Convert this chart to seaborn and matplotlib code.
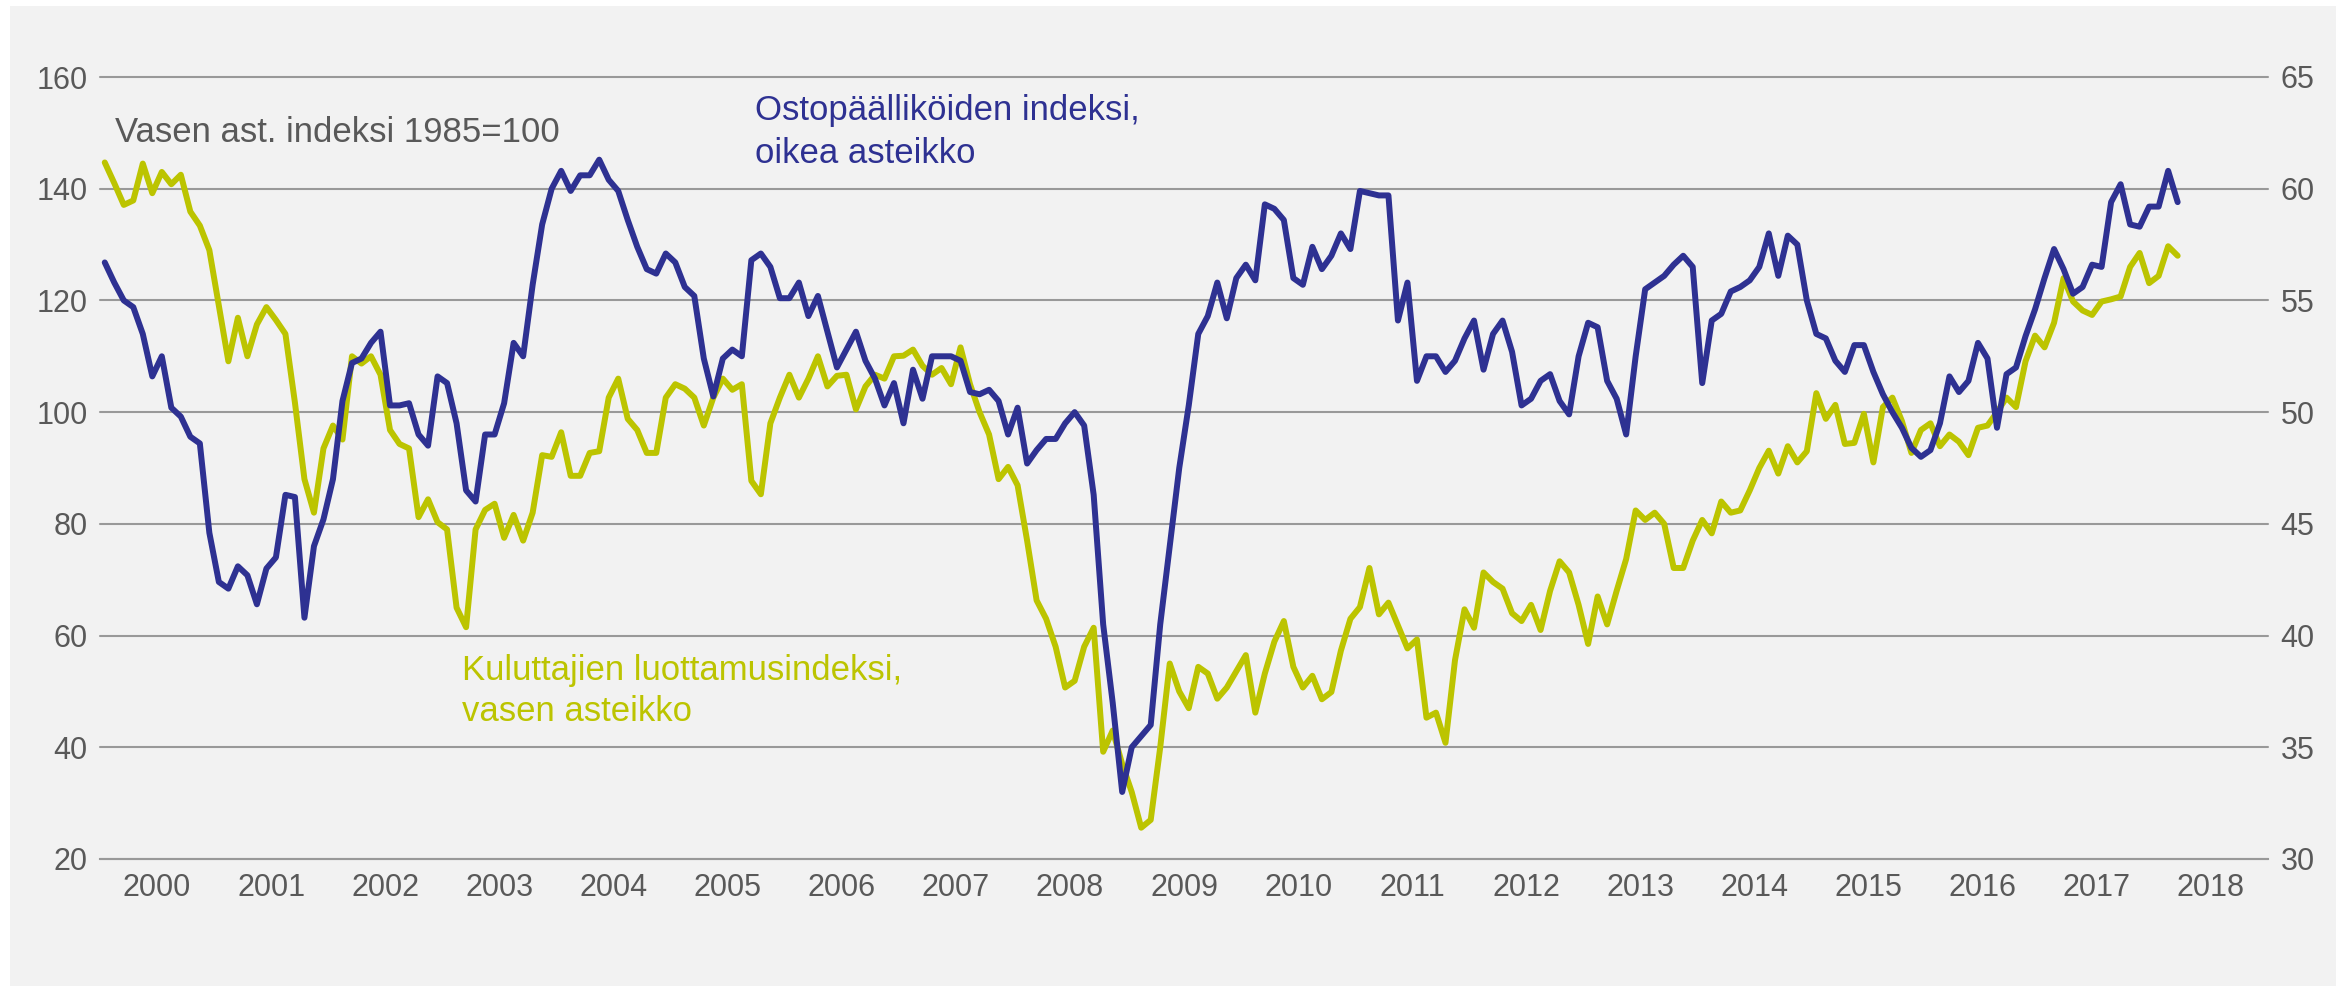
import numpy as np
import pandas as pd
import matplotlib.pyplot as plt
import seaborn as sns
from matplotlib.patches import Rectangle

# ---------------------------------------------------------
# Data (monthly, Jan 2000 - Mar 2018)
# ---------------------------------------------------------

years = list(range(2000, 2019))

# Ostopäälliköiden indeksi (right axis)
pmi = [
    56.7, 55.8, 55.0, 54.7, 53.5, 51.6, 52.5, 50.2, 49.8, 48.9, 48.6, 44.6,
    42.4, 42.1, 43.1, 42.7, 41.4, 43.0, 43.5, 46.3, 46.2, 40.8, 44.0, 45.2,
    47.0, 50.5, 52.2, 52.4, 53.1, 53.6, 50.3, 50.3, 50.4, 49.0, 48.5, 51.6,
    51.3, 49.5, 46.5, 46.0, 49.0, 49.0, 50.4, 53.1, 52.5, 55.7, 58.4, 60.0,
    60.8, 59.9, 60.6, 60.6, 61.3, 60.4, 59.9, 58.6, 57.4, 56.4, 56.2, 57.1,
    56.7, 55.6, 55.2, 52.4, 50.7, 52.4, 52.8, 52.5, 56.8, 57.1, 56.5, 55.1,
    55.1, 55.8, 54.3, 55.2, 53.6, 52.0, 52.8, 53.6, 52.3, 51.5, 50.3, 51.3,
    49.5, 51.9, 50.6, 52.5, 52.5, 52.5, 52.3, 50.9, 50.8, 51.0, 50.5, 49.0,
    50.2, 47.7, 48.3, 48.8, 48.8, 49.5, 50.0, 49.4, 46.3, 40.5, 37.0, 33.0,
    35.0, 35.5, 36.0, 40.5, 44.0, 47.5, 50.3, 53.5, 54.3, 55.8, 54.2, 56.0,
    56.6, 55.9, 59.3, 59.1, 58.6, 56.0, 55.7, 57.4, 56.4, 57.0, 58.0, 57.3,
    59.9, 59.8, 59.7, 59.7, 54.1, 55.8, 51.4, 52.5, 52.5, 51.8, 52.3, 53.3,
    54.1, 51.9, 53.5, 54.1, 52.7, 50.3, 50.6, 51.4, 51.7, 50.5, 49.9, 52.5,
    54.0, 53.8, 51.4, 50.6, 49.0, 52.5, 55.5, 55.8, 56.1, 56.6, 57.0, 56.5,
    51.3, 54.1, 54.4, 55.4, 55.6, 55.9, 56.5, 58.0, 56.1, 57.9, 57.5, 55.0,
    53.5, 53.3, 52.3, 51.8, 53.0, 53.0, 51.8, 50.8, 50.0, 49.3, 48.4, 48.0,
    48.3, 49.5, 51.6, 50.9, 51.4, 53.1, 52.4, 49.3, 51.7, 52.0, 53.4, 54.6,
    56.0, 57.3, 56.4, 55.3, 55.6, 56.6, 56.5, 59.4, 60.2, 58.4, 58.3, 59.2,
    59.2, 60.8, 59.4,
]

# Kuluttajien luottamusindeksi (left axis)
cci = [
    144.7, 141.0, 137.1, 137.9, 144.5, 139.2, 143.0, 140.8, 142.5, 135.9, 133.4, 129.0,
    119.0, 109.1, 116.9, 110.0, 115.7, 118.8, 116.5, 114.0, 101.7, 88.0, 82.0, 93.5,
    97.6, 95.1, 110.0, 108.7, 110.0, 106.7, 96.8, 94.3, 93.5, 81.2, 84.4, 80.3,
    79.0, 65.0, 61.5, 79.0, 82.5, 83.6, 77.5, 81.6, 77.0, 82.0, 92.3, 92.0,
    96.4, 88.6, 88.6, 92.7, 93.0, 102.6, 106.0, 98.8, 96.8, 92.7, 92.7, 102.6,
    105.0, 104.2, 102.6, 97.6, 102.6, 106.0, 104.0, 105.0, 87.7, 85.3, 98.0, 102.6,
    106.7, 102.6, 106.0, 110.0, 104.6, 106.5, 106.7, 100.5, 104.6, 106.7, 106.0, 110.0,
    110.1, 111.2, 108.3, 106.7, 107.9, 105.0, 111.6, 105.0, 100.0, 96.0, 88.0, 90.2,
    86.9, 77.0, 66.3, 63.0, 58.0, 50.7, 51.9, 58.0, 61.4, 39.2, 43.0, 37.0,
    32.0, 25.6, 27.0, 40.0, 55.0, 50.0, 47.0, 54.4, 53.2, 48.7, 50.7, 53.6,
    56.5, 46.2, 53.2, 58.9, 62.6, 54.4, 50.7, 52.8, 48.6, 49.9, 57.3, 63.0,
    65.1, 72.1, 63.8, 65.9, 61.8, 57.7, 59.3, 45.3, 46.2, 40.8, 55.6, 64.7,
    61.4, 71.3, 69.6, 68.4, 64.0, 62.6, 65.5, 61.0, 68.0, 73.3, 71.3, 65.5,
    58.5, 67.0, 62.0, 68.0, 73.7, 82.4, 80.7, 82.0, 80.0, 72.1, 72.1, 77.0,
    80.7, 78.3, 84.0, 82.0, 82.4, 86.0, 90.0, 93.1, 89.0, 93.9, 91.0, 93.0,
    103.4, 98.8, 101.3, 94.3, 94.5, 99.7, 91.0, 100.9, 102.6, 98.4, 92.7, 96.8,
    98.0, 93.9, 96.0, 94.7, 92.3, 97.2, 97.6, 100.0, 102.6, 100.9, 109.1, 113.7,
    111.6, 116.0, 124.0, 119.8, 118.2, 117.4, 119.8, 120.2, 120.7, 126.0, 128.5, 123.1,
    124.4, 129.7, 128.0,
]

left_ticks = list(range(20, 161, 20))
right_ticks = list(range(30, 66, 5))

# ---------------------------------------------------------
# Style
# ---------------------------------------------------------

BLUE = "#2E3192"
YELLOW = "#BCC400"
TEXT = "#595959"
GRID = "#999999"
BG = "#F2F2F2"

sns.set_theme(style="white")
plt.rcParams["font.family"] = ["Liberation Sans", "DejaVu Sans"]

W, H = 2346, 986
fig = plt.figure(figsize=(W / 100, H / 100), dpi=100, facecolor="white")
fig.patches.append(Rectangle((10 / W, 0), (2336 - 10) / W, (H - 6) / H,
                             transform=fig.transFigure, facecolor=BG,
                             edgecolor="none", zorder=-10))

ax = fig.add_axes([100 / W, 1 - 859 / H, (2268 - 100) / W, (859 - 77) / H])
ax.set_facecolor("none")
ax2 = ax.twinx()

df = pd.DataFrame({"month": np.arange(len(pmi)) + 0.5, "pmi": pmi, "cci": cci})

sns.lineplot(data=df, x="month", y="cci", ax=ax, color=YELLOW, linewidth=4.3)
sns.lineplot(data=df, x="month", y="pmi", ax=ax2, color=BLUE, linewidth=4.3)

ax.set_xlim(0, 12 * len(years))
ax.set_ylim(20, 160)
ax2.set_ylim(30, 65)

for v in left_ticks:
    ax.axhline(v, color=GRID, lw=1.5, zorder=0, clip_on=False)

ax.set_yticks(left_ticks)
ax2.set_yticks(right_ticks)
ax.set_xticks(np.arange(0, 12 * len(years) + 1, 12))
ax.set_xticklabels([])
ax.set_xticks(np.arange(6, 12 * len(years), 12), minor=True)
ax.set_xticklabels([str(y) for y in years], minor=True)

ax.tick_params(axis="x", which="major", length=10, width=1.3, color=GRID, direction="out")
ax.tick_params(axis="x", which="minor", length=0, pad=10, labelsize=22, labelcolor=TEXT)
ax.tick_params(axis="y", length=0, pad=9, labelsize=22, labelcolor=TEXT)
ax2.tick_params(axis="y", length=0, pad=9, labelsize=22, labelcolor=TEXT)

for s in ["top", "left", "right"]:
    ax.spines[s].set_visible(False)
ax.spines["bottom"].set_color(GRID)
ax.spines["bottom"].set_linewidth(1.5)
for s in ax2.spines.values():
    s.set_visible(False)

for a in (ax, ax2):
    a.set_xlabel("")
    a.set_ylabel("")
    a.grid(False)

# ---------------------------------------------------------
# Labels
# ---------------------------------------------------------

fs = 25
fig.text(115 / W, 1 - 142 / H, "Vasen ast. indeksi 1985=100", color=TEXT,
         fontsize=fs, va="baseline")
fig.text(755 / W, 1 - 120 / H, "Ostopäälliköiden indeksi,", color=BLUE,
         fontsize=fs, va="baseline")
fig.text(755 / W, 1 - 163 / H, "oikea asteikko", color=BLUE,
         fontsize=fs, va="baseline")
fig.text(462 / W, 1 - 680 / H, "Kuluttajien luottamusindeksi,", color=YELLOW,
         fontsize=fs, va="baseline")
fig.text(462 / W, 1 - 721 / H, "vasen asteikko", color=YELLOW,
         fontsize=fs, va="baseline")

fig.savefig("out.png", dpi=100, facecolor=fig.get_facecolor())
